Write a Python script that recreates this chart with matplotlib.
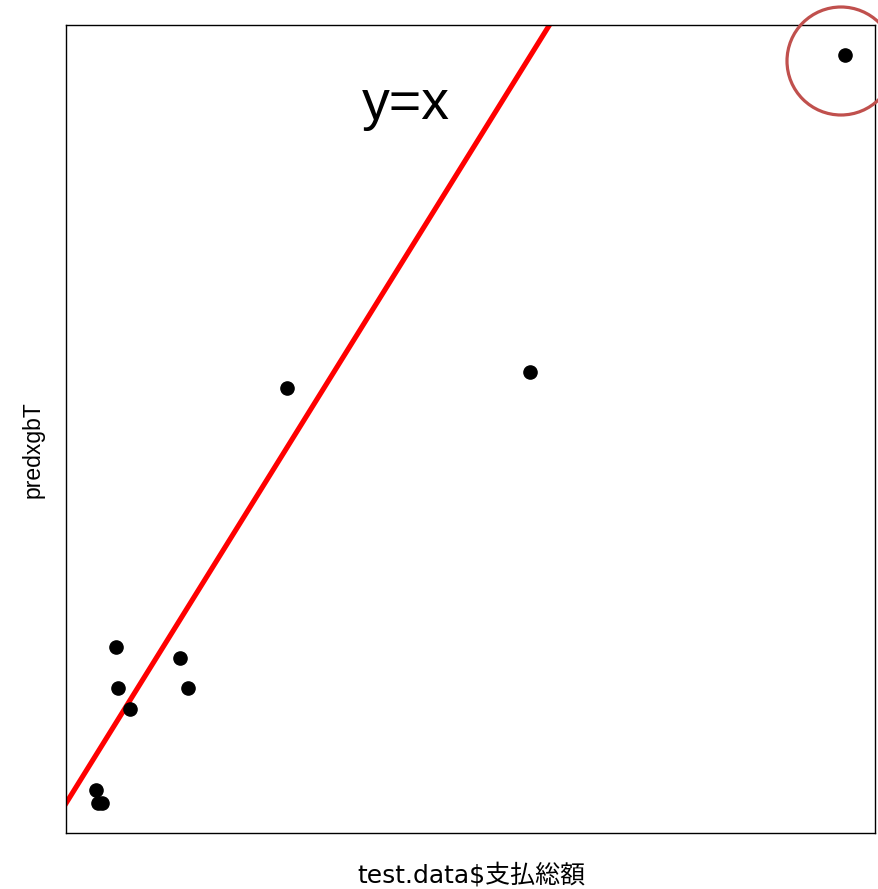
import matplotlib
matplotlib.use("Agg")
import matplotlib.pyplot as plt
from matplotlib.patches import Circle

plt.rcParams["font.family"] = ["Liberation Sans", "Noto Sans CJK JP"]

actual = [76.0, 79.2, 85.6, 108.2, 111.4, 130.8, 211.4, 224.3, 383.9, 774.0, 1281.7]
predicted = [41, 28, 28, 184, 143, 122, 173, 143, 443, 459, 776]

X_LABEL = "test.data$支払総額"
Y_LABEL = "predxgbT"


def padded(vals, frac=0.04):
    lo, hi = min(vals), max(vals)
    pad = (hi - lo) * frac
    return lo - pad, hi + pad


fig = plt.figure(figsize=(8.79, 8.89), dpi=100)
ax = fig.add_axes([66 / 879, 56 / 889, 809 / 879, 808 / 889])

ax.plot(actual, predicted, "o", color="black", markersize=9.5, zorder=3)

xlim = padded(actual)
ylim = padded(predicted)
ax.set_xlim(xlim)
ax.set_ylim(ylim)

# reference line y = x
ax.plot([xlim[0] - 100, 2000], [xlim[0] - 100, 2000], color="red", lw=3.7, zorder=2)
ax.text((406 - 66) / 809, (833 - 119) / 808, "y=x", transform=ax.transAxes,
        fontsize=40, ha="center", va="baseline")

ax.set_xticks([])
ax.set_yticks([])
for s in ax.spines.values():
    s.set_linewidth(1.0)

# highlight circle around the outlier (figure pixel coords)
fig.patches.append(Circle((841, 889 - 61), 54, transform=None, fill=False,
                          edgecolor="#C0504D", lw=2.3))

fig.text(471 / 879, 1 - 875 / 889, X_LABEL, ha="center", va="center", fontsize=18,
         family=["DejaVu Sans", "Noto Sans CJK JP"])
fig.text(33 / 879, 1 - 450 / 889, Y_LABEL, ha="center", va="center",
         fontsize=16.5, rotation=90)

fig.savefig("out.png", dpi=100)
